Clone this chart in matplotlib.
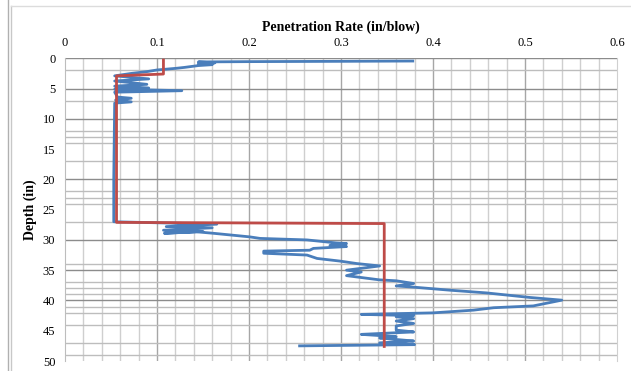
import matplotlib
matplotlib.use("Agg")
from matplotlib import pyplot as plt
from matplotlib.lines import Line2D
import numpy as np

# measured blue trace: penetration rate (in/blow) vs depth (in)
rate = [0.378, 0.30, 0.20, 0.145, 0.163, 0.145, 0.16, 0.145, 0.13, 0.121, 0.10, 0.089, 0.072,
        0.054, 0.091, 0.054, 0.089, 0.054, 0.091, 0.054, 0.127, 0.054, 0.057, 0.072, 0.055, 0.072, 0.054,
        0.053, 0.053, 0.165, 0.11, 0.16, 0.107, 0.15, 0.108, 0.143, 0.161, 0.201, 0.212, 0.263,
        0.295, 0.306, 0.288, 0.306, 0.27, 0.266, 0.216, 0.216, 0.263, 0.274, 0.299, 0.317, 0.342,
        0.306, 0.322, 0.306, 0.342, 0.36, 0.379, 0.36, 0.379, 0.418, 0.458, 0.505, 0.54,
        0.509, 0.466, 0.444, 0.40, 0.322, 0.379, 0.36, 0.379, 0.36, 0.379, 0.36, 0.36, 0.379,
        0.322, 0.342, 0.36, 0.342, 0.364, 0.379, 0.342, 0.38, 0.255]
depth = [0.45, 0.5, 0.55, 0.6, 0.75, 0.9, 1.05, 1.2, 1.5, 1.65, 1.93, 2.2, 2.5,
         2.9, 3.4, 3.75, 4.3, 4.6, 4.9, 5.1, 5.35, 5.6, 6.4, 6.6, 6.9, 7.2, 7.4,
         20.0, 27.0, 27.4, 27.8, 28.0, 28.4, 28.6, 28.9, 28.66, 28.9, 29.5, 29.75, 30.0,
         30.5, 30.6, 30.9, 31.1, 31.4, 31.7, 31.85, 32.2, 32.5, 33.06, 33.5, 33.9, 34.3,
         35.0, 35.3, 35.9, 36.6, 36.75, 37.2, 37.6, 37.8, 38.3, 38.75, 39.5, 39.95,
         40.9, 41.2, 41.6, 42.05, 42.3, 42.5, 42.7, 43.0, 43.4, 43.8, 44.2, 44.9, 45.2,
         45.6, 45.8, 46.0, 46.2, 46.5, 46.7, 47.0, 47.3, 47.5]

# red step (layer averages)
step_rate = [0.107, 0.107, 0.056, 0.056, 0.347, 0.347]
step_depth = [0.3, 2.6, 2.9, 27.1, 27.3, 47.6]

y_labels = [0, 5, 10, 15, 20, 25, 30, 35, 40, 45, 50]
dark_rows = [0, 5, 10, 20, 30, 35, 40]
light_rows = [2, 7, 12, 13, 14, 17, 22, 23, 24, 27, 34, 37, 38, 39, 41, 42, 44, 47, 49]

fig = plt.figure(figsize=(6.31, 3.71), dpi=100)
ax = fig.add_axes([65/631, 1-361/371, 552/631, (361-58.3)/371])

# vertical grid: light every 0.02, darker every 0.1
for xv in np.arange(0.02, 0.6, 0.02):
    if abs(xv*10 - round(xv*10)) < 1e-6:
        ax.axvline(xv, color="#a6a6a6", lw=1.0, zorder=1)
    else:
        ax.axvline(xv, color="#cfcfcf", lw=1.0, zorder=1)
for yv in light_rows:
    ax.axhline(yv, color="#bdbdbd", lw=1.0, zorder=1)
for yv in dark_rows:
    ax.axhline(yv, color="#8c8c8c", lw=1.0, zorder=1)

ax.plot(rate, depth, color="#4a7ebb", lw=2.0, zorder=3)
ax.plot(step_rate, step_depth, color="#be4b48", lw=2.0, zorder=4)

ax.set_xlim(0, 0.6)
ax.set_ylim(50, 0)
ax.xaxis.tick_top()
ax.set_xticks([0, 0.1, 0.2, 0.3, 0.4, 0.5, 0.6])
ax.set_xticklabels(["0", "0.1", "0.2", "0.3", "0.4", "0.5", "0.6"])
ax.set_yticks(y_labels)
ax.tick_params(length=0, labelsize=9, pad=7)
for lab in ax.get_xticklabels() + ax.get_yticklabels():
    lab.set_family("Liberation Serif")
for s in ["top", "bottom", "right"]:
    ax.spines[s].set_visible(False)
ax.spines["left"].set_color("#bdbdbd")
ax.spines["right"].set_visible(True)
ax.spines["right"].set_color("#d0d0d0")

fig.text(341/631, 1-27/371, "Penetration Rate (in/blow)", ha="center", va="center",
         family="Liberation Serif", weight="bold", fontsize=10)
fig.text(30/631, 1-210/371, "Depth (in)", ha="center", va="center", rotation=90,
         family="Liberation Serif", weight="bold", fontsize=10)

# outer frame lines
fig.add_artist(Line2D([8.3/631, 8.3/631], [0, 1], color="#b0b0b0", lw=1))
fig.add_artist(Line2D([11/631, 11/631], [0, 1-6/371], color="#c8c8c8", lw=1))
fig.add_artist(Line2D([11/631, 1], [1-6/371, 1-6/371], color="#dcdcdc", lw=1))

fig.savefig("out.png", dpi=100)
